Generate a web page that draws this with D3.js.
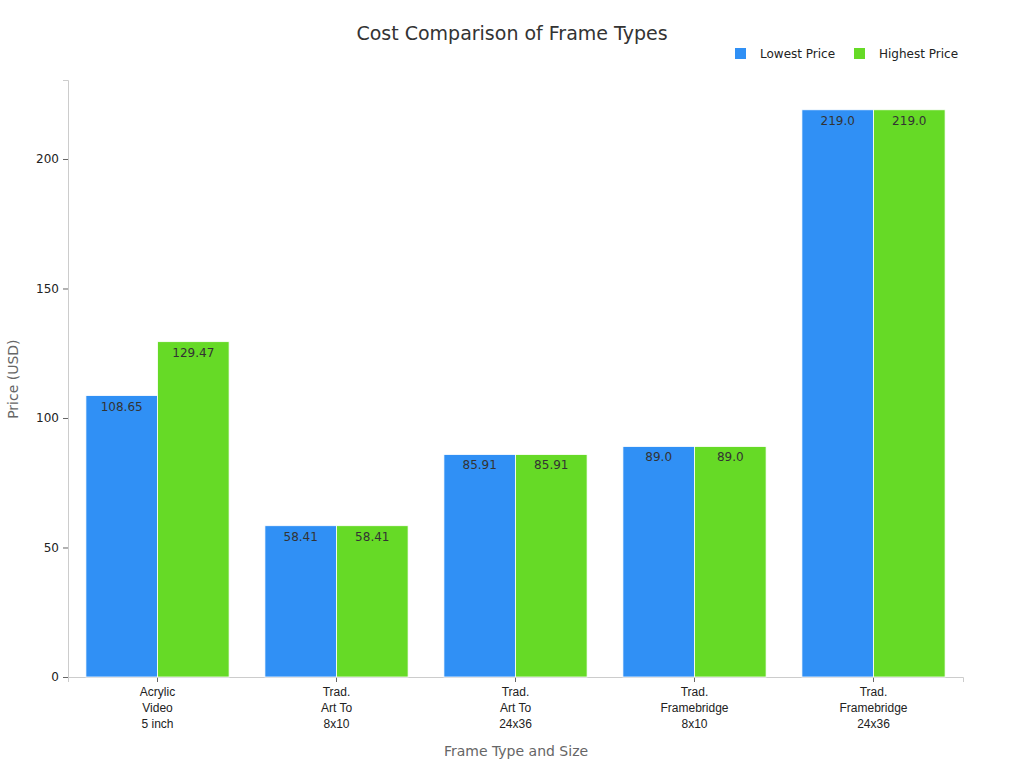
<!DOCTYPE html>
<html lang="en">
<head>
<meta charset="utf-8">
<title>Cost Comparison of Frame Types</title>
<script src="https://cdn.jsdelivr.net/npm/d3@7"></script>
<style>
body { margin: 0; background: #fff; font-family: "DejaVu Sans", sans-serif; }
</style>
</head>
<body>
<script>
// data
var categories = ["Acrylic\nVideo\n5 inch", "Trad.\nArt To\n8x10", "Trad.\nArt To\n24x36", "Trad.\nFramebridge\n8x10", "Trad.\nFramebridge\n24x36"];
var lowest = [108.65, 58.41, 85.91, 89.0, 219.0];
var highest = [129.47, 58.41, 85.91, 89.0, 219.0];
var seriesNames = ["Lowest Price", "Highest Price"];
var colors = ["#3090f5", "#66da26"];
var yTicks = [0, 50, 100, 150, 200];

var w = 1024, h = 768;
var m = {left: 68, right: 61, top: 80, bottom: 91};

var svg = d3.select("body").append("svg").attr("width", w).attr("height", h);

var x = d3.scaleBand().domain(d3.range(categories.length))
  .range([m.left, w - m.right]).paddingInner(0.2).paddingOuter(0.1);
var x1 = d3.scaleBand().domain([0, 1]).range([0, x.bandwidth()]);
var y = d3.scaleLinear().domain([0, 230.5]).range([h - m.bottom, m.top]);

// axes
var ya = svg.append("g").attr("transform", "translate(" + m.left + ",0)")
  .call(d3.axisLeft(y).tickValues(yTicks).tickSize(5).tickPadding(4));
ya.select(".domain").attr("stroke", "#ccc");
ya.selectAll(".tick line").attr("stroke", "#666");
ya.selectAll("text").attr("font-size", 12).attr("fill", "#222").attr("font-family", "DejaVu Sans");

var xa = svg.append("g").attr("transform", "translate(0," + (h - m.bottom) + ")")
  .call(d3.axisBottom(x).tickSize(5).tickFormat(""));
xa.select(".domain").attr("stroke", "#ccc");
xa.selectAll(".tick line").attr("stroke", "#666");
xa.selectAll(".tick").append("text")
  .attr("fill", "#222").attr("font-size", 12).attr("text-anchor", "middle")
  .selectAll("tspan")
  .data(function(d) { return categories[d].split("\n"); })
  .enter().append("tspan")
  .attr("x", 0).attr("y", function(d, i) { return 19 + i * 16; })
  .text(function(d) { return d; });

// bars
var groups = svg.selectAll("g.grp").data(categories).enter().append("g")
  .attr("class", "grp")
  .attr("transform", function(d, i) { return "translate(" + x(i) + ",0)"; });

[lowest, highest].forEach(function(vals, s) {
  groups.append("rect")
    .attr("x", x1(s)).attr("width", x1.bandwidth())
    .attr("y", function(d, i) { return y(vals[i]); })
    .attr("height", function(d, i) { return y(0) - y(vals[i]); })
    .attr("fill", colors[s]).attr("stroke", "#fff").attr("stroke-width", 0.8);
  groups.append("text")
    .attr("x", x1(s) + x1.bandwidth() / 2)
    .attr("y", function(d, i) { return y(vals[i]) + 15; })
    .attr("text-anchor", "middle").attr("font-size", 12).attr("fill", "#333")
    .text(function(d, i) { return String(vals[i]).indexOf(".") < 0 ? vals[i].toFixed(1) : vals[i]; });
});

// titles
svg.append("text").attr("x", 512).attr("y", 40).attr("text-anchor", "middle")
  .attr("font-size", 19).attr("fill", "#333").text("Cost Comparison of Frame Types");
svg.append("text").attr("x", 516).attr("y", 756).attr("text-anchor", "middle")
  .attr("font-size", 14).attr("fill", "#666").text("Frame Type and Size");
svg.append("text").attr("transform", "translate(18," + y(115) + ") rotate(-90)")
  .attr("text-anchor", "middle").attr("font-size", 14).attr("fill", "#666").text("Price (USD)");

// legend
var legX = [735, 854];
seriesNames.forEach(function(n, i) {
  svg.append("rect").attr("x", legX[i]).attr("y", 48).attr("width", 11).attr("height", 11).attr("fill", colors[i]);
  svg.append("text").attr("x", legX[i] + 25).attr("y", 58).attr("font-size", 12).attr("fill", "#222").text(n);
});
</script>
</body>
</html>
